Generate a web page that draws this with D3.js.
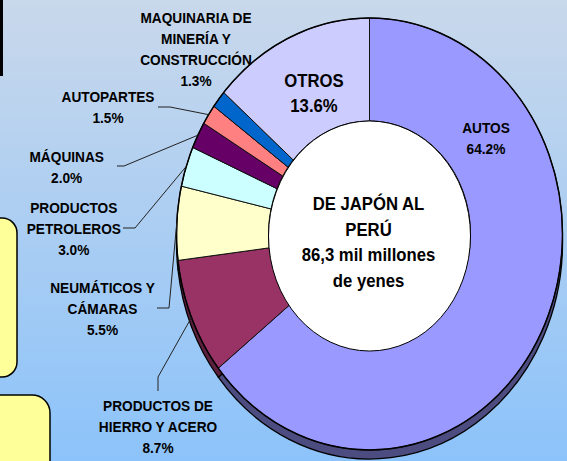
<!DOCTYPE html>
<html>
<head>
<meta charset="utf-8">
<script src="https://cdn.jsdelivr.net/npm/d3@7"></script>
<style>
  html, body { margin: 0; padding: 0; overflow: hidden; }
  svg { display: block; font-family: "Liberation Sans", Arial, sans-serif; }
</style>
</head>
<body>
<div id="chart"></div>
<script>
// exportaciones de Japón al Perú, % por rubro (sentido horario desde arriba)
const categories = [
  ["AUTOS"],
  ["PRODUCTOS DE", "HIERRO Y ACERO"],
  ["NEUMÁTICOS Y", "CÁMARAS"],
  ["PRODUCTOS", "PETROLEROS"],
  ["MÁQUINAS"],
  ["AUTOPARTES"],
  ["MAQUINARIA DE", "MINERÍA Y", "CONSTRUCCIÓN"],
  ["OTROS"]
];
const values = [64.2, 8.7, 5.5, 3.0, 2.0, 1.5, 1.3, 13.6];
const centerTitle = ["DE JAPÓN AL", "PERÚ", "86,3 mil millones", "de yenes"];

const width = 567, height = 461;
const cx = 369.5, cy = 234, R = 193, ky = 1.119, depth = 9;
const rInner = 101;

const topColors  = ["#9999ff", "#993366", "#ffffcc", "#ccffff", "#660066", "#ff8080", "#0066cc", "#ccccff"];
const sideColors = ["#4c4c80", "#5c1f3d", "#99997a", "#7a9999", "#3d003d", "#994d4d", "#003d7a", "#7a7a99"];

const svg = d3.select("#chart").append("svg")
  .attr("width", width)
  .attr("height", height);

const defs = svg.append("defs");
const grad = defs.append("linearGradient")
  .attr("id", "bg").attr("x1", 0).attr("y1", 0).attr("x2", 0).attr("y2", 1);
grad.append("stop").attr("offset", "0%").attr("stop-color", "#c9d8eb");
grad.append("stop").attr("offset", "100%").attr("stop-color", "#8cc3fa");

svg.append("rect").attr("width", width).attr("height", height).attr("fill", "url(#bg)");

// restos de otros elementos de la lámina
svg.append("rect").attr("x", 0).attr("y", 0).attr("width", 3).attr("height", 76).attr("fill", "#000");
svg.append("rect").attr("x", -40).attr("y", 218).attr("width", 57).attr("height", 159).attr("rx", 15)
  .attr("fill", "#ffff99").attr("stroke", "#000").attr("stroke-width", 1.5);
svg.append("rect").attr("x", -40).attr("y", 395).attr("width", 90).attr("height", 120).attr("rx", 18)
  .attr("fill", "#ffff99").attr("stroke", "#000").attr("stroke-width", 1.5);

const pie = d3.pie().sort(null).value(d => d);
const arcs = pie(values);

const sideArc = d3.arc().innerRadius(0).outerRadius(R);
const topArc = d3.arc().innerRadius(rInner).outerRadius(R);

// cara lateral (3D)
svg.append("g")
  .attr("transform", `translate(${cx},${cy + depth}) scale(1,${ky})`)
  .selectAll("path")
  .data(arcs)
  .join("path")
  .attr("d", sideArc)
  .attr("fill", (d, i) => sideColors[i])
  .attr("stroke", "#000")
  .attr("stroke-width", 1.3)
  .attr("vector-effect", "non-scaling-stroke");

// cara superior
svg.append("g")
  .attr("transform", `translate(${cx},${cy}) scale(1,${ky})`)
  .selectAll("path")
  .data(arcs)
  .join("path")
  .attr("d", topArc)
  .attr("fill", (d, i) => topColors[i])
  .attr("stroke", "#111")
  .attr("stroke-width", 1)
  .attr("vector-effect", "non-scaling-stroke");

svg.append("g")
  .attr("transform", `translate(${cx},${cy}) scale(1,${ky})`)
  .append("path")
  .attr("d", d3.arc().innerRadius(R).outerRadius(R).startAngle(0).endAngle(2 * Math.PI)())
  .attr("fill", "none")
  .attr("stroke", "#000")
  .attr("stroke-width", 1.5)
  .attr("vector-effect", "non-scaling-stroke");

svg.append("ellipse")
  .attr("cx", cx).attr("cy", cy + 2)
  .attr("rx", rInner).attr("ry", rInner * ky + 2)
  .attr("fill", "#fff")
  .attr("stroke", "#000")
  .attr("stroke-width", 1);

// punto del borde exterior a mitad de cada rebanada
function edgePoint(d) {
  const a = (d.startAngle + d.endAngle) / 2;
  return [cx + R * Math.sin(a), cy - R * ky * Math.cos(a)];
}

// posición de etiquetas y codos de las guías
const labelPos = [
  { x: 486, y: 132.7, size: 13.7 },
  { x: 158, y: 410.7, size: 13.7, elbow: [[158, 391], [158, 377]] },
  { x: 102.5, y: 293.3, size: 13.7, elbow: [[157, 308], [169, 308]] },
  { x: 73.8, y: 213.3, size: 13.7, elbow: [[123, 228], [135, 228]] },
  { x: 66.7, y: 162, size: 13.7, elbow: [[117, 166], [124, 166]] },
  { x: 108, y: 101.7, size: 13.7, elbow: [[158, 107], [170, 107]] },
  { x: 196, y: 22.7, size: 13.7 },
  { x: 314, y: 87.3, size: 16.7, lh: 24.4 }
];

const pct = d3.format(".1f");

const leaders = svg.append("g").attr("fill", "none").attr("stroke", "#222").attr("stroke-width", 1);
arcs.forEach((d, i) => {
  const p = labelPos[i];
  if (!p.elbow) return;
  leaders.append("path").attr("d", d3.line()([...p.elbow, edgePoint(d)]));
});

const labels = svg.append("g").attr("fill", "#000").attr("font-weight", "bold").attr("text-anchor", "middle");
arcs.forEach((d, i) => {
  const p = labelPos[i];
  const lh = p.lh || 21;
  const lines = [...categories[i], pct(values[i]) + "%"];
  lines.forEach((t, j) => {
    labels.append("text")
      .attr("transform", `translate(${p.x},${p.y + j * lh}) scale(1,${ky})`)
      .attr("font-size", p.size)
      .text(t);
  });
});

centerTitle.forEach((t, j) => {
  labels.append("text")
    .attr("transform", `translate(${cx - 1},${210 + j * 25.6}) scale(1,${ky})`)
    .attr("font-size", 16.7)
    .text(t);
});
</script>
</body>
</html>
